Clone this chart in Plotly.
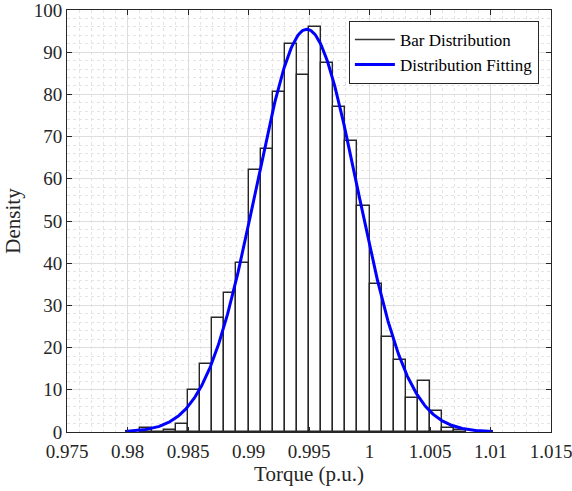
import numpy as np
import plotly.graph_objects as go

# Histogram: left bin edges (width 0.001) and density values
bin_left = [0.981, 0.982, 0.983, 0.984, 0.985, 0.986, 0.987, 0.988, 0.989,
            0.990, 0.991, 0.992, 0.993, 0.994, 0.995, 0.996, 0.997, 0.998,
            0.999, 1.000, 1.001, 1.002, 1.003, 1.004, 1.005, 1.006, 1.007]
density = [1, 0, 0.5, 2, 10, 16, 27, 33, 40,
           62, 67, 80.5, 92, 84.5, 96, 87.5, 77, 69,
           53.5, 35, 22.5, 17, 8, 12, 5, 1, 0.5]
bin_width = 0.001

# Fitted normal distribution parameters
fit_mu = 0.99482
fit_sigma = 0.00418
fit_range = [0.9798, 1.0102]

x_ticks = [0.975, 0.98, 0.985, 0.99, 0.995, 1.0, 1.005, 1.01, 1.015]
x_ticktext = ["0.975", "0.98", "0.985", "0.99", "0.995", "1", "1.005", "1.01", "1.015"]
y_ticks = [0, 10, 20, 30, 40, 50, 60, 70, 80, 90, 100]

xs = np.linspace(fit_range[0], fit_range[1], 400)
ys = np.exp(-0.5 * ((xs - fit_mu) / fit_sigma) ** 2) / (fit_sigma * np.sqrt(2 * np.pi))

FONT = "Liberation Serif, Times New Roman, serif"
AX = "#262626"

fig = go.Figure()
fig.add_trace(go.Bar(
    x=bin_left, y=density, width=bin_width, offset=0,
    marker=dict(color="white", line=dict(color=AX, width=1.4)),
    showlegend=False, name="Bar Distribution"))
fig.add_trace(go.Scatter(
    x=[None], y=[None], mode="lines", name="Bar Distribution",
    line=dict(color="#333333", width=1.6)))
fig.add_trace(go.Scatter(
    x=xs, y=ys, mode="lines", name="Distribution Fitting",
    line=dict(color="#0000ff", width=3)))

axis_common = dict(
    showline=True, linecolor=AX, linewidth=1, mirror="ticks",
    ticks="inside", ticklen=5, tickcolor=AX, tickwidth=1,
    showgrid=True, gridcolor="#dedede", gridwidth=1,
    zeroline=False, ticklabeloverflow="allow", automargin=False,
    tickfont=dict(family=FONT, size=19, color=AX),
)

fig.update_xaxes(
    range=[0.975, 1.015], tickvals=x_ticks, ticktext=x_ticktext,
    ticklabelstandoff=2,
    title=dict(text="Torque (p.u.)", font=dict(family=FONT, size=21, color=AX), standoff=4),
    minor=dict(dtick=0.001, showgrid=True, gridcolor="#e4e4e4", griddash="dot", ticks=""),
    **axis_common)
fig.update_yaxes(
    range=[0, 100], tickvals=y_ticks,
    title=dict(text="Density", font=dict(family=FONT, size=21, color=AX), standoff=7),
    minor=dict(dtick=2, showgrid=True, gridcolor="#e4e4e4", griddash="dot", ticks=""),
    **axis_common)

fig.update_layout(
    width=572, height=491,
    margin=dict(l=67, r=21, t=10, b=59),
    plot_bgcolor="white", paper_bgcolor="white",
    bargap=0,
    legend=dict(
        x=0.975, y=0.974, xanchor="right", yanchor="top",
        bgcolor="white", bordercolor=AX, borderwidth=1,
        font=dict(family=FONT, size=17, color="black"),
        tracegroupgap=0, itemwidth=40,
    ),
)

fig.write_html("out.html")
